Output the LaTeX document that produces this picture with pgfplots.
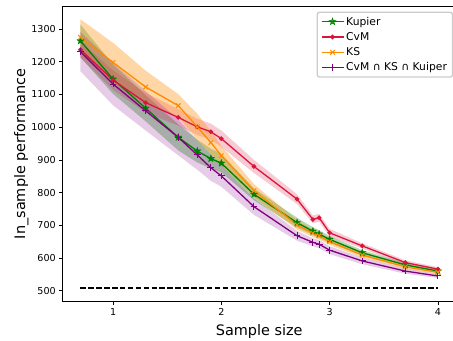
\documentclass[border=0pt]{standalone}
\usepackage{fontspec}
\setmainfont{DejaVu Sans}
\usepackage{pgfplots}
\usepackage{pgfplotstable}
\pgfplotsset{compat=1.18}
\usepgfplotslibrary{fillbetween}

\definecolor{cgreen}{HTML}{008000}
\definecolor{cred}{HTML}{DC143C}
\definecolor{corange}{HTML}{FF8C00}
\definecolor{cpurple}{HTML}{800080}

\pgfdeclareplotmark{fstar}{%
  \pgfpathmoveto{\pgfpointpolar{90}{\pgfplotmarksize}}%
  \pgfpathlineto{\pgfpointpolar{126}{0.42\pgfplotmarksize}}%
  \pgfpathlineto{\pgfpointpolar{162}{\pgfplotmarksize}}%
  \pgfpathlineto{\pgfpointpolar{198}{0.42\pgfplotmarksize}}%
  \pgfpathlineto{\pgfpointpolar{234}{\pgfplotmarksize}}%
  \pgfpathlineto{\pgfpointpolar{270}{0.42\pgfplotmarksize}}%
  \pgfpathlineto{\pgfpointpolar{306}{\pgfplotmarksize}}%
  \pgfpathlineto{\pgfpointpolar{342}{0.42\pgfplotmarksize}}%
  \pgfpathlineto{\pgfpointpolar{18}{\pgfplotmarksize}}%
  \pgfpathlineto{\pgfpointpolar{54}{0.42\pgfplotmarksize}}%
  \pgfpathclose
  \pgfusepathqfillstroke
}

% x y lo hi
\pgfplotstableread{
x y lo hi
0.699 1264 1214 1314
1.000 1147 1102 1192
1.301 1058 1018 1098
1.602 969 929 1009
1.778 927 892 962
1.903 904 874 934
2.000 890 862 918
2.301 795 777 813
2.699 708 693 723
2.845 682 670 694
2.903 673 661 685
3.000 657 647 667
3.301 616 608 624
3.699 579 573 585
4.000 560 555 565
}\tkup

\pgfplotstableread{
x y lo hi
0.699 1237 1212 1262
1.000 1144 1114 1174
1.301 1075 1045 1105
1.602 1030 1005 1055
1.778 1001 976 1026
1.903 986 961 1011
2.000 965 940 990
2.301 880 860 900
2.699 780 765 795
2.845 718 706 730
2.903 723 711 735
3.000 677 665 689
3.301 637 629 645
3.699 586 579 593
4.000 566 560 572
}\tcvm

\pgfplotstableread{
x y lo hi
0.699 1275 1220 1330
1.000 1198 1138 1258
1.301 1123 1073 1173
1.602 1066 1031 1101
1.778 1001 961 1041
1.903 953 918 988
2.000 913 883 943
2.301 806 786 826
2.699 701 687 715
2.845 676 664 688
2.903 668 656 680
3.000 650 640 660
3.301 609 601 617
3.699 573 567 579
4.000 556 551 561
}\tks

\pgfplotstableread{
x y lo hi
0.699 1231 1171 1291
1.000 1132 1067 1197
1.301 1050 990 1110
1.602 969 914 1024
1.778 915 870 960
1.903 876 836 916
2.000 851 818 884
2.301 757 732 782
2.699 668 653 683
2.845 648 636 660
2.903 642 630 654
3.000 624 612 636
3.301 591 581 601
3.699 560 552 568
4.000 545 539 551
}\tall

\begin{document}
\begin{tikzpicture}
\begin{axis}[
  scale only axis,
  width=393.1bp, height=294.8bp,
  at={(0,0)}, anchor=south west,
  xmin=0.535, xmax=4.165,
  ymin=467.6, ymax=1369.1,
  xtick={1,2,3,4},
  ytick={500,600,700,800,900,1000,1100,1200,1300},
  tick align=outside,
  xtick pos=left, ytick pos=left,
  major tick length=3.5bp,
  tick style={black, line width=0.8bp},
  axis line style={line width=0.8bp, black},
  /pgf/number format/assume math mode=true,
  /pgf/number format/1000 sep={},
  ticklabel style={font=\fontsize{9.6}{11}\selectfont},
  xlabel={Sample size},
  ylabel={In\_sample performance},
  xlabel style={at={(axis description cs:0.5,-0.1167)}, anchor=base, font=\fontsize{14.5}{17}\selectfont},
  ylabel style={at={(axis description cs:-0.0959,0.5)}, anchor=base, rotate=0, font=\fontsize{14.5}{17}\selectfont},
  legend style={at={(0.993,0.9824)}, anchor=north east, draw=black!20, rounded corners=2bp,
    fill=white, fill opacity=0.8, text opacity=1,
    font=\fontsize{10.8}{13}\selectfont, row sep=1.8bp, inner xsep=3.5bp, inner ysep=2.5bp},
  legend cell align=left,
  legend image code/.code={%
    \draw[mark repeat=2,mark phase=2] plot coordinates {(0bp,0bp) (11bp,0bp) (22bp,0bp)};%
  },
  legend image post style={line width=1.4bp},
  line width=1.3bp,
]
% bands
\addplot[draw=none, forget plot, name path=gu] table[x=x,y=hi]{\tkup};
\addplot[draw=none, forget plot, name path=gl] table[x=x,y=lo]{\tkup};
\addplot[cgreen, fill opacity=0.3, draw=none, forget plot] fill between[of=gu and gl];
\addplot[draw=none, forget plot, name path=ru] table[x=x,y=hi]{\tcvm};
\addplot[draw=none, forget plot, name path=rl] table[x=x,y=lo]{\tcvm};
\addplot[cred, fill opacity=0.22, draw=none, forget plot] fill between[of=ru and rl];
\addplot[draw=none, forget plot, name path=ou] table[x=x,y=hi]{\tks};
\addplot[draw=none, forget plot, name path=ol] table[x=x,y=lo]{\tks};
\addplot[corange, fill opacity=0.35, draw=none, forget plot] fill between[of=ou and ol];
\addplot[draw=none, forget plot, name path=pu] table[x=x,y=hi]{\tall};
\addplot[draw=none, forget plot, name path=pl] table[x=x,y=lo]{\tall};
\addplot[cpurple, fill opacity=0.2, draw=none, forget plot] fill between[of=pu and pl];
% lines
\addplot[cgreen, line width=1.3bp, mark=fstar, mark size=3.6bp, mark options={solid, line width=0.5bp}] table[x=x,y=y]{\tkup};
\addlegendentry{Kupier}
\addplot[cred, line width=1.3bp, mark=*, mark size=1.6bp, mark options={solid}] table[x=x,y=y]{\tcvm};
\addlegendentry{CvM}
\addplot[corange, line width=1.3bp, mark=x, mark size=3.2bp, mark options={solid, line width=1bp}] table[x=x,y=y]{\tks};
\addlegendentry{KS}
\addplot[cpurple, line width=1.3bp, mark=+, mark size=3.4bp, mark options={solid, line width=1bp}] table[x=x,y=y]{\tall};
\addlegendentry{CvM ∩ KS ∩ Kuiper}
% dashed reference line
\addplot[black, line width=1.3bp, dash pattern=on 5.5bp off 2.4bp, forget plot] coordinates {(0.699,508) (4.0,508)};
\end{axis}
\pgfresetboundingbox
\path (-62.7bp,-39.7bp) rectangle (390.3bp,301.3bp);
\end{tikzpicture}
\end{document}
